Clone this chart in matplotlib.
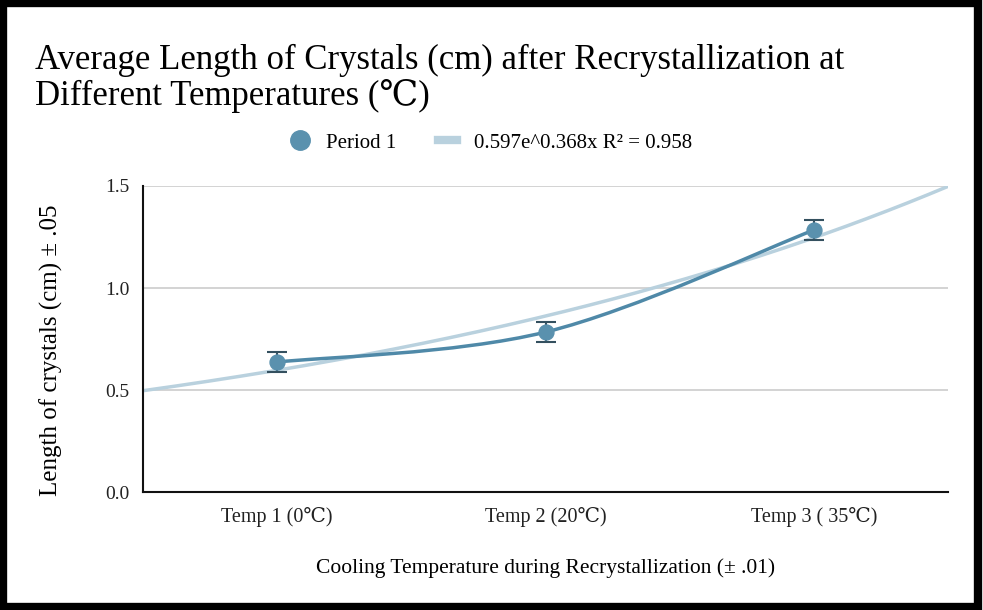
import numpy as np
import matplotlib
matplotlib.use("Agg")
import matplotlib.pyplot as plt
from matplotlib.path import Path
from matplotlib.patches import PathPatch, Rectangle
from matplotlib.lines import Line2D

# data
categories = ["Temp 1 (0\u2103)", "Temp 2 (20\u2103)", "Temp 3 ( 35\u2103)"]
avg_length = [0.637, 0.784, 1.284]
error = [0.05, 0.05, 0.05]
# exponential trendline coefficients (from the legend), x = 0, 1, 2
trend_a = 0.597
trend_b = 0.368
trend_label = "0.597e^0.368x R\u00b2 = 0.958"

POINT_COLOR = "#5a91ae"
LINE_COLOR = "#4f89a8"
TREND_COLOR = "#b9d1de"
ERR_COLOR = "#34505f"

plt.rcParams['font.family'] = ['Liberation Serif', 'DejaVu Serif']

fig = plt.figure(figsize=(9.83, 6.10), dpi=100)
ax = fig.add_axes([0.1455, 0.1934, 0.8189, 0.5017])

x = np.arange(len(categories))

# trendline across the whole plot width
xt = np.linspace(-0.5, len(categories) - 0.5, 200)
ax.plot(xt, trend_a * np.exp(trend_b * xt), color=TREND_COLOR, lw=2.5, zorder=2)

# smoothed connecting line (Catmull-Rom as cubic bezier segments)
pts = np.column_stack([x, avg_length]).astype(float)
verts = [tuple(pts[0])]
codes = [Path.MOVETO]
for i in range(len(pts) - 1):
    p0 = pts[i - 1] if i > 0 else pts[i]
    p1 = pts[i]
    p2 = pts[i + 1]
    p3 = pts[i + 2] if i + 2 < len(pts) else pts[i + 1]
    c1 = p1 + (p2 - p0) / 6.0
    c2 = p2 - (p3 - p1) / 6.0
    verts += [tuple(c1), tuple(c2), tuple(p2)]
    codes += [Path.CURVE4] * 3
ax.add_patch(PathPatch(Path(verts, codes), fill=False, edgecolor=LINE_COLOR,
                       lw=2.5, zorder=3, capstyle='round'))

ax.errorbar(x, avg_length, yerr=error, fmt='none', ecolor=ERR_COLOR,
            elinewidth=1.5, capsize=7, capthick=1.5, zorder=4)
ax.scatter(x, avg_length, s=115, color=POINT_COLOR, zorder=5)

ax.set_xlim(-0.5, len(categories) - 0.5)
ax.set_ylim(0, 1.5)
ax.set_yticks([0.0, 0.5, 1.0, 1.5])
ax.set_yticklabels(["0.0", "0.5", "1.0", "1.5"])
ax.set_xticks(x)
ax.set_xticklabels(categories)
ax.tick_params(axis='both', length=0, colors='#222222')
ax.tick_params(axis='x', pad=11, labelsize=14.5)
ax.tick_params(axis='y', pad=10, labelsize=14)
ax.yaxis.grid(True, color='#cccccc', lw=1.2)
ax.set_axisbelow(True)
for s in ['top', 'right']:
    ax.spines[s].set_visible(False)
for s in ['left', 'bottom']:
    ax.spines[s].set_color('#111111')
    ax.spines[s].set_linewidth(1.5)

ax.set_ylabel("Length of crystals (cm) \u00b1 .05", fontsize=18)
ax.yaxis.set_label_coords(-0.099, 0.464)
ax.set_xlabel("Cooling Temperature during Recrystallization (\u00b1 .01)",
              fontsize=15.5, labelpad=22)

fig.text(0.036, 0.928, "Average Length of Crystals (cm) after Recrystallization at\n"
         "Different Temperatures (\u2103)", fontsize=25, va='top', ha='left',
         linespacing=1.08)

handles = [
    Line2D([], [], marker='o', ls='none', color=POINT_COLOR, markersize=14),
    Line2D([], [], color=TREND_COLOR, lw=6),
]
fig.legend(handles, ["Period 1", trend_label], loc='center',
           bbox_to_anchor=(0.5, 0.766), ncol=2, frameon=False, fontsize=15,
           handlelength=0.9, columnspacing=2.0, handletextpad=0.8)

# black frame around the picture
fig.patches.append(Rectangle((0.003, 0.005), 0.992, 0.99, transform=fig.transFigure,
                             fill=False, edgecolor='black', lw=6))

fig.savefig("out.png", dpi=100)
